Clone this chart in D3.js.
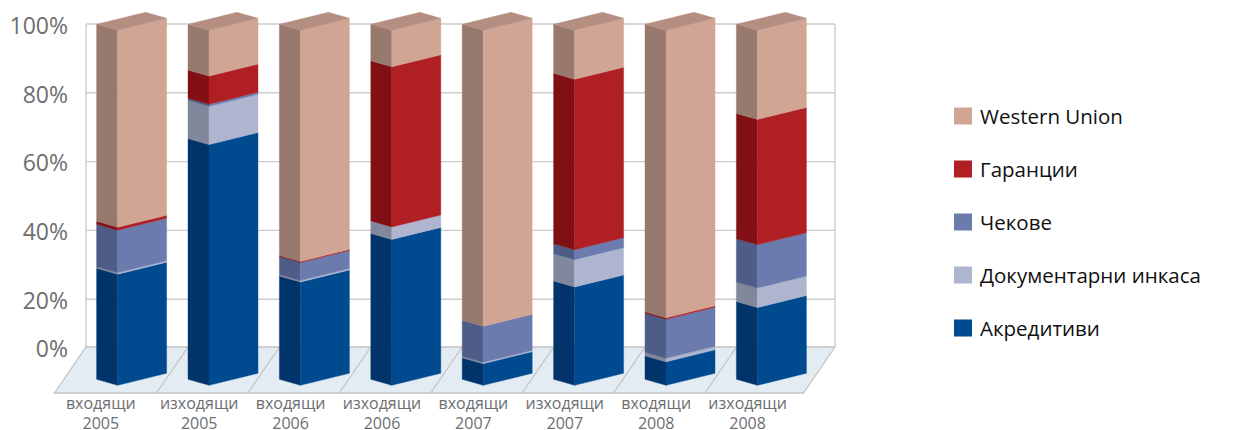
<!DOCTYPE html>
<html lang="bg">
<head>
<meta charset="utf-8">
<script src="https://cdn.jsdelivr.net/npm/d3@7"></script>
<style>
  html, body { margin: 0; padding: 0; background: #fff; }
  svg { display: block; }
  text { font-family: "Open Sans", "Noto Sans", sans-serif; }
</style>
</head>
<body>
<svg id="chart" width="1247" height="430"></svg>
<script>
// Categories: direction + year
const categories = [
  "входящи 2005", "изходящи 2005", "входящи 2006", "изходящи 2006",
  "входящи 2007", "изходящи 2007", "входящи 2008", "изходящи 2008"
];

// Series, stacked from the bottom up (percent of each column)
const seriesNames = ["Акредитиви", "Документарни инкаса", "Чекове", "Гаранции", "Western Union"];
const akreditivi   = [31.3, 67.8, 29.1, 41.1,  6.1, 27.7,  6.6, 21.9];
const dokumentarni = [ 0.4, 10.8,  0.4,  3.5,  0.4,  7.7,  1.0,  5.5];
const chekove      = [12.0,  0.6,  5.1,  0.0, 10.1,  2.8, 11.0, 12.2];
const garancii     = [ 0.8,  7.9,  0.3, 45.1,  0.0, 48.0,  0.4, 35.3];
const westernUnion = [55.5, 12.9, 65.1, 10.3, 83.4, 13.8, 81.0, 25.1];

const yTicks = [0, 20, 40, 60, 80, 100];

// Colours: front faces and darker side faces
const frontColors = ["#004a8f", "#afb5cf", "#6b7bad", "#b01f24", "#d1a594"];
const sideColors  = ["#00346b", "#81889b", "#4e5c88", "#820f13", "#97796d"];
const topColor = "#b48e80";

const svg = d3.select("#chart");

// ---- table for the stack layout ----
const seriesValues = [akreditivi, dokumentarni, chekove, garancii, westernUnion];
const rows = categories.map((c, i) => {
  const r = { category: c };
  seriesNames.forEach((s, k) => { r[s] = seriesValues[k][i]; });
  return r;
});
const stacked = d3.stack().keys(seriesNames).offset(d3.stackOffsetExpand)(rows);

// ---- scales ----
const wallLeft = 86, wallRight = 835;
const x = d3.scaleBand().domain(categories).range([96.6, 827.8]).paddingInner(0).paddingOuter(0);
// back wall value scale (floor sits at 0)
const wallY = d3.scaleLinear().domain([0, 20, 100]).range([347, 299.2, 24]);
// bar height scale (fraction of column)
const barH = d3.scaleLinear().domain([0, 1]).range([0, 355]);

// oblique projection of the bars
const base = 379.3;                 // back-left bottom corner
const depth = { dx: 21, dy: 6 };    // back -> front along the left side
const face  = { dx: 49, dy: -12 };  // front-left -> front-right
const floorDepth = { dx: -31.5, dy: 46 };
const floorFront = wallY(0) + floorDepth.dy;

const gWall = svg.append("g");
// gridlines on the back wall
gWall.selectAll("line.grid")
  .data(yTicks.filter(t => t > 0))
  .join("line")
  .attr("x1", wallLeft).attr("x2", wallRight)
  .attr("y1", d => wallY(d)).attr("y2", d => wallY(d))
  .attr("stroke", "#cdcdcd").attr("stroke-width", 1.4);
// wall edges
[wallLeft, wallRight].forEach(xx => {
  gWall.append("line")
    .attr("x1", xx).attr("x2", xx)
    .attr("y1", wallY(100)).attr("y2", wallY(0))
    .attr("stroke", "#cdcdcd").attr("stroke-width", 1.4);
});

// floor
const gFloor = svg.append("g");
gFloor.append("polygon")
  .attr("points", [
    [wallLeft, wallY(0)], [wallRight, wallY(0)],
    [wallRight + floorDepth.dx, floorFront], [wallLeft + floorDepth.dx, floorFront]
  ].map(p => p.join(",")).join(" "))
  .attr("fill", "#e3ebf3")
  .attr("stroke", "#c4c4c4").attr("stroke-width", 1.3);
gFloor.selectAll("line.div")
  .data(categories.slice(1))
  .join("line")
  .attr("x1", d => x(d)).attr("y1", wallY(0))
  .attr("x2", d => x(d) + floorDepth.dx).attr("y2", floorFront)
  .attr("stroke", "#c4c4c4").attr("stroke-width", 1.3);

// ---- bars ----
const pts = a => a.map(p => p.join(",")).join(" ");
const gBars = svg.append("g");
stacked.forEach((layer, k) => {
  layer.forEach((seg, i) => {
    const x0 = x(categories[i]);
    const h0 = barH(seg[0]), h1 = barH(seg[1]);
    if (h1 - h0 <= 0) return;
    const side = [
      [x0, base - h0], [x0, base - h1],
      [x0 + depth.dx, base + depth.dy - h1], [x0 + depth.dx, base + depth.dy - h0]
    ];
    const front = [
      [x0 + depth.dx, base + depth.dy - h0], [x0 + depth.dx, base + depth.dy - h1],
      [x0 + depth.dx + face.dx, base + depth.dy + face.dy - h1],
      [x0 + depth.dx + face.dx, base + depth.dy + face.dy - h0]
    ];
    gBars.append("polygon").attr("points", pts(side))
      .attr("fill", sideColors[k]).attr("stroke", sideColors[k]).attr("stroke-width", 0.4);
    gBars.append("polygon").attr("points", pts(front))
      .attr("fill", frontColors[k]).attr("stroke", frontColors[k]).attr("stroke-width", 0.4);
  });
});
// top faces
categories.forEach(c => {
  const x0 = x(c), H = barH(1);
  gBars.append("polygon").attr("points", pts([
    [x0, base - H], [x0 + depth.dx, base + depth.dy - H],
    [x0 + depth.dx + face.dx, base + depth.dy + face.dy - H],
    [x0 + face.dx, base + face.dy - H]
  ])).attr("fill", topColor).attr("stroke", topColor).attr("stroke-width", 0.4);
});

// ---- value axis labels ----
svg.append("g").selectAll("text")
  .data(yTicks)
  .join("text")
  .attr("x", 68)
  .attr("y", d => wallY(d) + 1.5)
  .attr("dy", "0.36em")
  .attr("text-anchor", "end")
  .attr("font-size", 23)
  .attr("fill", "#6d6e71")
  .text(d => d + "%");

// ---- category labels ----
const gX = svg.append("g");
categories.forEach((c, i) => {
  const cx = x(c) + x.bandwidth() / 2 + floorDepth.dx - (i === 0 ? 10 : 3);
  const parts = c.split(" ");
  const t = gX.append("text")
    .attr("text-anchor", "middle")
    .attr("font-size", 16)
    .attr("fill", "#6d6e71");
  t.append("tspan").attr("x", cx).attr("y", 409).text(parts[0]);
  t.append("tspan").attr("x", cx).attr("y", 428.5).text(parts[1]);
});

// ---- legend (top entry = top of stack) ----
const legend = svg.append("g");
seriesNames.slice().reverse().forEach((name, j) => {
  const k = seriesNames.length - 1 - j;
  const cy = 116 + 53 * j;
  legend.append("rect")
    .attr("x", 954).attr("y", cy - 8.5)
    .attr("width", 18).attr("height", 17)
    .attr("fill", frontColors[k]);
  legend.append("text")
    .attr("x", 980).attr("y", cy + 1)
    .attr("dy", "0.36em")
    .attr("font-size", 20.5)
    .attr("fill", "#111")
    .text(name);
});
</script>
</body>
</html>
